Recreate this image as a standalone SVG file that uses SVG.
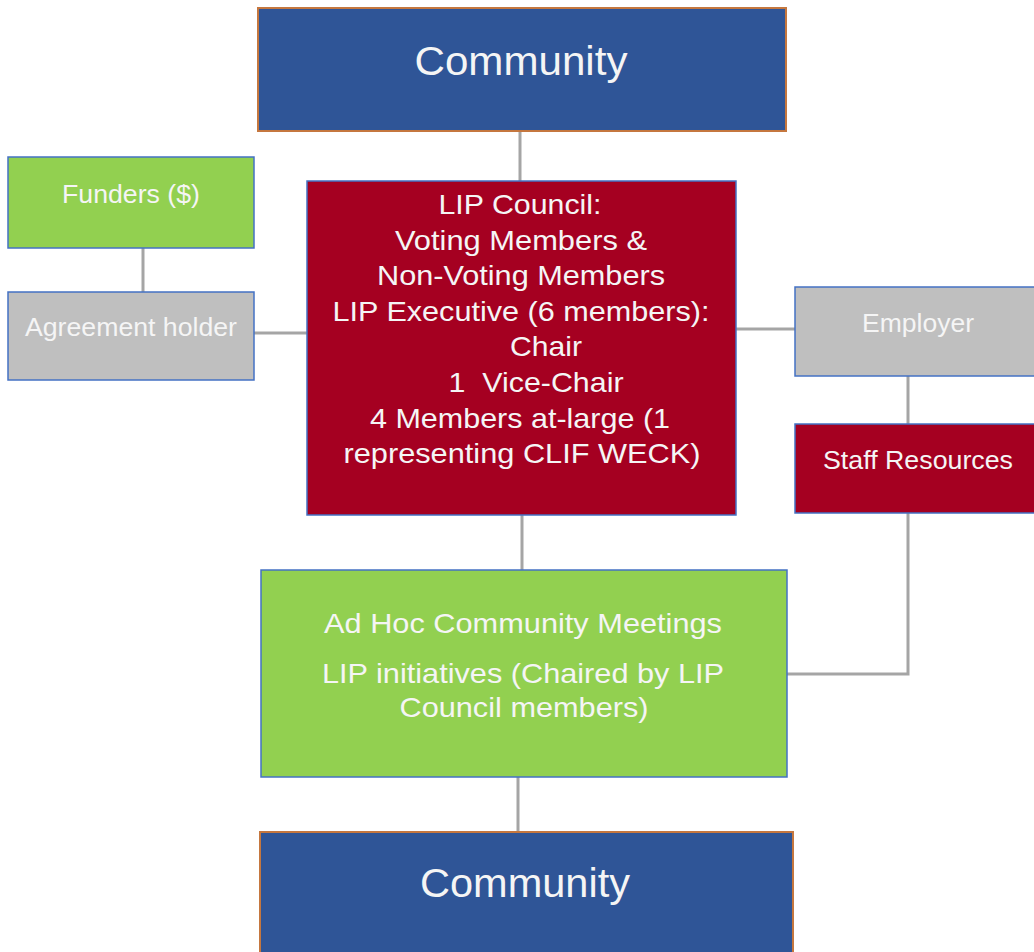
<svg xmlns="http://www.w3.org/2000/svg" width="1034" height="952" viewBox="0 0 1034 952">
<style>
.comm{fill:#2f5597;stroke:#c5773f;stroke-width:2}
.red{fill:#a50021;stroke:#4472c4;stroke-width:1.5}
.green{fill:#92d050;stroke:#4472c4;stroke-width:1.5}
.gray{fill:#bfbfbf;stroke:#4472c4;stroke-width:1.5}
text{font-family:"Liberation Sans",Arial,sans-serif;fill:#f5f5f5;text-anchor:middle}
.big{font-size:41px}
.mid{font-size:28.5px}
.sm{font-size:25.5px}
.conn line,.conn polyline{stroke:#a5a5a5;stroke-width:3;fill:none}
</style>
<g class="conn" id="connectors">
<line x1="520" y1="131" x2="520" y2="181"/>
<line x1="143" y1="248" x2="143" y2="292"/>
<line x1="254" y1="333" x2="307" y2="333"/>
<line x1="736" y1="329" x2="795" y2="329"/>
<line x1="908" y1="376" x2="908" y2="424"/>
<polyline points="908,513 908,674 787,674"/>
<line x1="522" y1="515" x2="522" y2="570"/>
<line x1="518" y1="777" x2="518" y2="832"/>
</g>
<g id="community-top">
<rect class="comm" x="258" y="8" width="528" height="123"/>
<text class="big" x="521" y="75" textLength="213" lengthAdjust="spacingAndGlyphs">Community</text>
</g>
<g id="funders">
<rect class="green" x="8" y="157" width="246" height="91"/>
<text class="sm" x="131" y="203" textLength="138" lengthAdjust="spacingAndGlyphs">Funders ($)</text>
</g>
<g id="agreement-holder">
<rect class="gray" x="8" y="292" width="246" height="88"/>
<text class="sm" x="131" y="336" textLength="212" lengthAdjust="spacingAndGlyphs">Agreement holder</text>
</g>
<g id="lip-council">
<rect class="red" x="307" y="181" width="429" height="334"/>
<text class="mid" x="520" y="214" textLength="163" lengthAdjust="spacingAndGlyphs">LIP Council:</text>
<text class="mid" x="521" y="250" textLength="252" lengthAdjust="spacingAndGlyphs">Voting Members &amp;</text>
<text class="mid" x="521" y="285" textLength="288" lengthAdjust="spacingAndGlyphs">Non-Voting Members</text>
<text class="mid" x="521" y="321" textLength="377" lengthAdjust="spacingAndGlyphs">LIP Executive (6 members):</text>
<text class="mid" x="546" y="356" textLength="72" lengthAdjust="spacingAndGlyphs">Chair</text>
<text class="mid" x="536" y="392" xml:space="preserve" textLength="175" lengthAdjust="spacingAndGlyphs">1  Vice-Chair</text>
<text class="mid" x="520" y="428" textLength="300" lengthAdjust="spacingAndGlyphs">4 Members at-large (1</text>
<text class="mid" x="522" y="463" textLength="357" lengthAdjust="spacingAndGlyphs">representing CLIF WECK)</text>
</g>
<g id="employer">
<rect class="gray" x="795" y="287" width="245" height="89"/>
<text class="sm" x="918" y="332" textLength="112" lengthAdjust="spacingAndGlyphs">Employer</text>
</g>
<g id="staff-resources">
<rect class="red" x="795" y="424" width="245" height="89"/>
<text class="sm" x="918" y="469" textLength="190" lengthAdjust="spacingAndGlyphs">Staff Resources</text>
</g>
<g id="ad-hoc">
<rect class="green" x="261" y="570" width="526" height="207"/>
<text class="mid" x="523" y="633" textLength="398" lengthAdjust="spacingAndGlyphs">Ad Hoc Community Meetings</text>
<text class="mid" x="523" y="683" textLength="402" lengthAdjust="spacingAndGlyphs">LIP initiatives (Chaired by LIP</text>
<text class="mid" x="524" y="717" textLength="249" lengthAdjust="spacingAndGlyphs">Council members)</text>
</g>
<g id="community-bottom">
<rect class="comm" x="260" y="832" width="533" height="130"/>
<text class="big" x="525" y="897" textLength="210" lengthAdjust="spacingAndGlyphs">Community</text>
</g>
</svg>
